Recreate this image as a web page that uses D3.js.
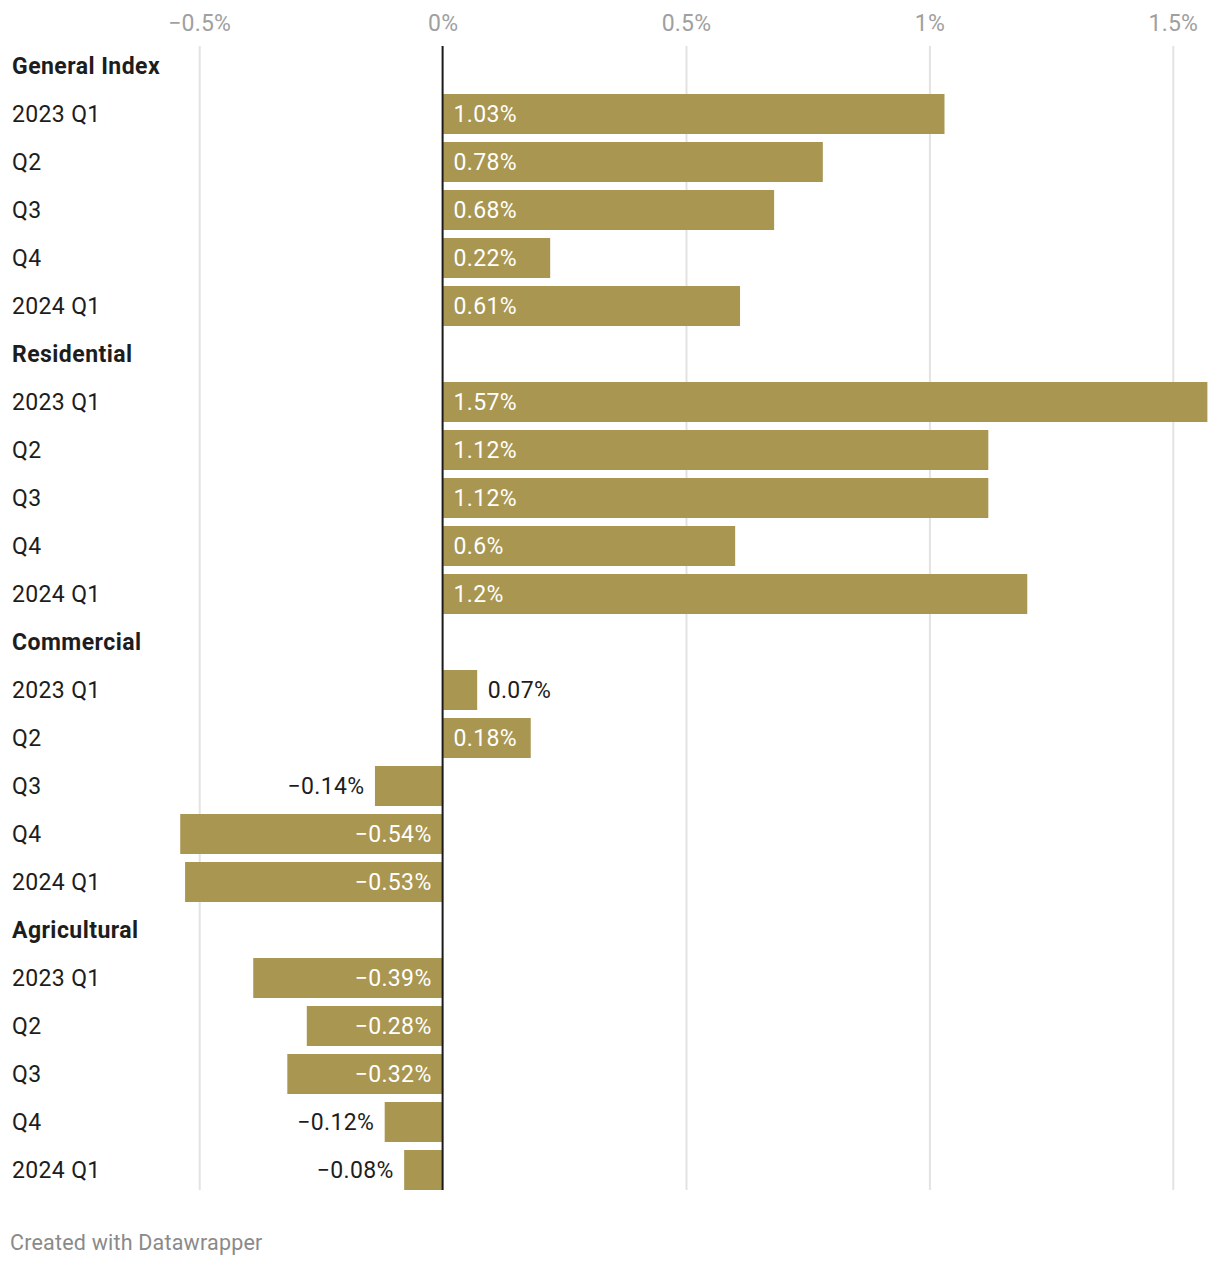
<!DOCTYPE html>
<html>
<head>
<meta charset="utf-8">
<script src="https://cdn.jsdelivr.net/npm/d3@7"></script>
<style>
  html, body { margin: 0; padding: 0; background: #fff; }
  svg text { font-family: Roboto, "Noto Sans", sans-serif; }
</style>
</head>
<body>
<svg id="chart" width="1220" height="1266"></svg>
<script>
const groups = ["General Index", "Residential", "Commercial", "Agricultural"];
const periods = ["2023 Q1", "Q2", "Q3", "Q4", "2024 Q1"];
const generalIndex = [1.03, 0.78, 0.68, 0.22, 0.61];
const residential = [1.57, 1.12, 1.12, 0.6, 1.2];
const commercial = [0.07, 0.18, -0.14, -0.54, -0.53];
const agricultural = [-0.39, -0.28, -0.32, -0.12, -0.08];
const tickValues = [-0.5, 0, 0.5, 1, 1.5];

const seriesValues = [generalIndex, residential, commercial, agricultural];

const rows = [];
groups.forEach((g, gi) => {
  rows.push({ id: "h" + gi, type: "header", label: g });
  periods.forEach((p, pi) => {
    rows.push({ id: "r" + gi + "_" + pi, type: "bar", label: p, value: seriesValues[gi][pi] });
  });
});

const svg = d3.select("#chart");
const fontSize = 23;
const barColor = "#a99651";
const ls = "0.35px";

const x = d3.scaleLinear().domain([-0.5, 1.5]).range([199.7, 1173.3]);
const y = d3.scaleBand()
  .domain(rows.map(r => r.id))
  .range([42, 1194])
  .paddingInner(1 / 6)
  .paddingOuter(1 / 12);

const gridTop = y(rows[0].id);
const gridBottom = y(rows[rows.length - 1].id) + y.bandwidth();

const fmt = v => (v < 0 ? "\u2212" : "") + Math.abs(v).toString() + "%";

svg.append("g").selectAll("line")
  .data(tickValues.filter(t => t !== 0))
  .join("line")
  .attr("x1", d => x(d)).attr("x2", d => x(d))
  .attr("y1", gridTop).attr("y2", gridBottom)
  .attr("stroke", "#e3e3e3").attr("stroke-width", 2);

svg.append("g").selectAll("text")
  .data(tickValues)
  .join("text")
  .attr("x", d => x(d))
  .attr("y", 30.5)
  .attr("text-anchor", "middle")
  .attr("fill", "#a0a0a0")
  .attr("font-size", fontSize)
  .style("letter-spacing", "0.2px")
  .text(d => fmt(d));

const barRows = rows.filter(r => r.type === "bar");
svg.append("g").selectAll("rect")
  .data(barRows)
  .join("rect")
  .attr("x", d => d.value >= 0 ? x(0) : x(d.value))
  .attr("width", d => Math.abs(x(d.value) - x(0)))
  .attr("y", d => y(d.id))
  .attr("height", y.bandwidth())
  .attr("fill", barColor);

svg.append("line")
  .attr("x1", x(0) - 0.5).attr("x2", x(0) - 0.5)
  .attr("y1", gridTop).attr("y2", gridBottom)
  .attr("stroke", "#1a1a1a").attr("stroke-width", 2);

const capOffset = 8.3;
svg.append("g").selectAll("text")
  .data(rows)
  .join("text")
  .attr("x", 12)
  .attr("y", d => y(d.id) + y.bandwidth() / 2 + capOffset)
  .attr("font-size", fontSize)
  .attr("font-weight", d => d.type === "header" ? 700 : 400)
  .style("letter-spacing", d => d.type === "header" ? "0.45px" : ls)
  .attr("fill", "#1d1d1d")
  .text(d => d.label);

const pad = 10.5;
const measure = svg.append("text").attr("font-size", fontSize).style("letter-spacing", ls).attr("visibility", "hidden");
const labels = svg.append("g");
barRows.forEach(d => {
  const txt = fmt(d.value);
  measure.text(txt);
  const w = measure.node().getComputedTextLength();
  const barW = Math.abs(x(d.value) - x(0));
  const inside = barW >= w + 2 * pad;
  const cy = y(d.id) + y.bandwidth() / 2 + capOffset;
  let tx, anchor;
  if (d.value >= 0) {
    tx = inside ? x(0) + pad : x(d.value) + pad;
    anchor = "start";
  } else {
    tx = inside ? x(0) - pad - 1 : x(d.value) - pad;
    anchor = "end";
  }
  labels.append("text")
    .attr("x", tx)
    .attr("y", cy)
    .attr("text-anchor", anchor)
    .attr("font-size", fontSize)
    .style("letter-spacing", ls)
    .attr("fill", inside ? "#ffffff" : "#1d1d1d")
    .text(txt);
});
measure.remove();

svg.append("text")
  .attr("x", 10)
  .attr("y", 1250)
  .attr("font-size", 21.5)
  .style("letter-spacing", "0.2px")
  .attr("fill", "#8a8a8a")
  .text("Created with Datawrapper");
</script>
</body>
</html>
